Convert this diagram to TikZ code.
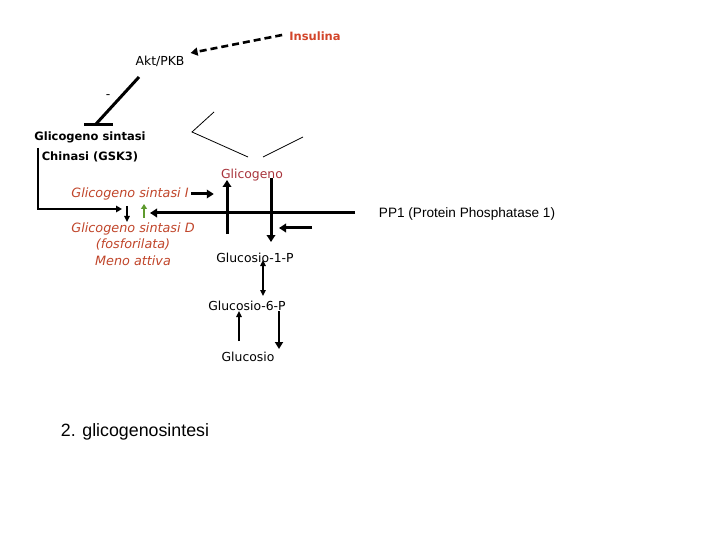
\documentclass[tikz,border=0pt]{standalone}
\usepackage{fontspec}
\setmainfont{DejaVu Sans}
\newfontfamily\arialf{Liberation Sans}
\usetikzlibrary{arrows.meta}
\definecolor{insred}{HTML}{D2452A}
\definecolor{gsred}{HTML}{C0452A}
\definecolor{glred}{HTML}{A8343C}
\definecolor{arrgreen}{HTML}{5E9A2E}
\tikzset{
  lbl/.style={inner sep=0pt, font=\fontsize{12.4}{14}\selectfont},
  bold/.style={inner sep=0pt, font=\fontsize{11.5}{20}\selectfont\bfseries, align=center},
  gs/.style={inner sep=0pt, text=gsred, font=\fontsize{12.8}{16.5}\selectfont\itshape, align=center},
  fat/.style={line width=3pt, -{Triangle[length=7pt,width=8.5pt]}},
  thin/.style={line width=1.6pt, -{Triangle[length=6pt,width=5.5pt]}},
  hair/.style={line width=0.8pt},
}
\begin{document}
\begin{tikzpicture}[x=1pt,y=-1pt]
\useasboundingbox (0,0) rectangle (720,540);
% texts
\node[inner sep=0pt, text=insred, font=\fontsize{11.5}{14}\selectfont\bfseries] (ins) at (315,36) {Insulina};
\node[lbl] (akt) at (160,61) {Akt/PKB};
\node[lbl] (minus) at (108,97) {-};
\node[bold] (gsk) at (90,147) {Glicogeno sintasi\\Chinasi (GSK3)};
\node[gs] (gsi) at (130,194) {Glicogeno sintasi I};
\node[gs] (gsd) at (133,244) {Glicogeno sintasi D\\(fosforilata)\\Meno attiva};
\node[lbl, text=glred] (glg) at (252,175) {Glicogeno};
\node[lbl] (g1p) at (255,258) {Glucosio-1-P};
\node[lbl] (g6p) at (247,306) {Glucosio-6-P};
\node[lbl] (glc) at (248,357) {Glucosio};
\node[inner sep=0pt, font=\arialf\fontsize{13.6}{16}\selectfont] (pp1) at (467,214) {PP1 (Protein Phosphatase 1)};
\node[inner sep=0pt, font=\arialf\fontsize{17.8}{20}\selectfont] (title) at (135,432) {2. glicogenosintesi};
% insulin -> Akt (dashed)
\draw[line width=2.6pt, dash pattern=on 7pt off 4pt, -{Triangle[length=7pt,width=8pt]}]
  ([xshift=-7pt,yshift=1pt]ins.west) -- ([xshift=6pt,yshift=8pt]akt.east);
% Akt inhibits GSK3
\coordinate (inhA) at (139,77);
\coordinate (inhB) at (96,124);
\draw[line width=3pt] (inhA) -- (inhB);
\draw[line width=3pt] (84,125) -- (113,125);
% GSK3 -> GS I/D
\draw[line width=1.6pt, -{Triangle[length=6pt,width=6.5pt]}]
  (38,148) -- (38,209) -- (122,209);
\draw[thin] (127,206) -- (127,222);
\draw[line width=2pt, arrgreen, -{Triangle[length=5pt,width=6pt]}] (144,218) -- (144,204);
% PP1 long line
\draw[line width=3pt, -{Triangle[length=7pt,width=8.5pt]}] (355,213) -- (150,213);
% GS I -> glycogen
\draw[fat] ([xshift=2pt]gsi.east) -- ([xshift=25pt]gsi.east);
% brackets above glycogen
\draw[hair] (214,112) -- (192,132) -- (248,157);
\draw[hair] (263,157) -- (303,137);
% glycogen arrows
\draw[fat] (227,234) -- (227,180);
\draw[fat] (271,178) -- (271,242);
\draw[fat] (312,228) -- (279,228);
% glucose pathway
\draw[line width=1.6pt, {Triangle[length=6pt,width=5.5pt]}-{Triangle[length=6pt,width=5.5pt]}] (263,260) -- (263,296);
\draw[thin] (239,341) -- (239,311);
\draw[line width=2.8pt, -{Triangle[length=7pt,width=8pt]}] (279,311) -- (279,349);
\end{tikzpicture}
\end{document}
